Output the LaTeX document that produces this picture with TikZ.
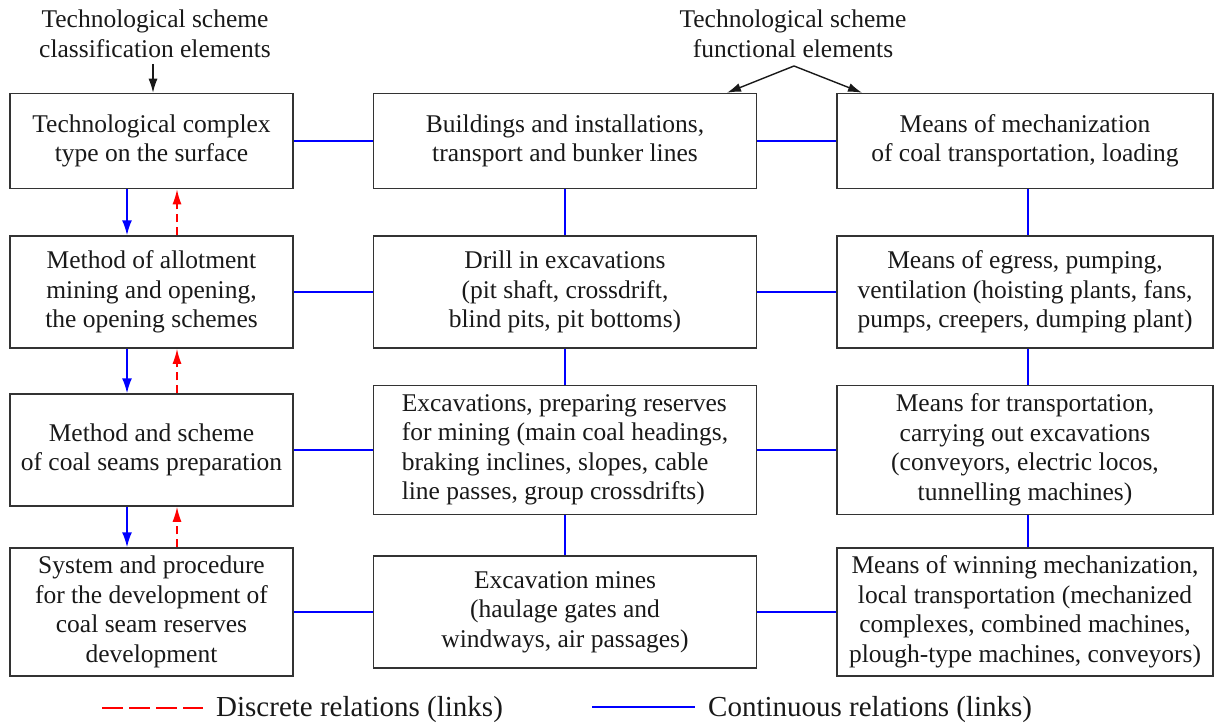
\documentclass[tikz,border=0pt]{standalone}
\usepackage{fontspec}
\setmainfont{Liberation Serif}
\usetikzlibrary{arrows.meta}
\begin{document}
\begin{tikzpicture}[x=1pt,y=-1pt,
        every node/.style={font=\fontsize{25.5}{29.5}\selectfont, text=black!90},
        box/.style={draw=black!80, line width=1.5pt, fill=white, inner sep=0pt, align=center},
        lbox/.style={box, minimum width=283pt},
        mbox/.style={box, minimum width=383pt},
        rbox/.style={box, minimum width=376pt},
        link/.style={blue, line width=1.6pt},
        flow/.style={blue, line width=1.6pt, -{Latex[length=15pt,width=10pt]}},
        feedback/.style={red, line width=1.6pt, dash pattern=on 8pt off 5pt, -{Latex[length=15pt,width=9pt]}},
        pointer/.style={black!90, line width=1.4pt, -{Latex[length=14pt,width=9pt]}},
        legend/.style={font=\fontsize{29}{34}\selectfont, anchor=base west, inner sep=0pt}]
        \useasboundingbox (0,0) rectangle (1214,722);

        % Classification elements (left column)
        \node[lbox, minimum height=95pt] (surface) at (151.5,141) {Technological complex\\type on the surface};
        \node[lbox, minimum height=112pt] (opening) at (151.5,292) {Method of allotment\\mining and opening,\\the opening schemes};
        \node[lbox, minimum height=112pt] (preparation) at (151.5,450) {Method and scheme\\of coal seams preparation};
        \node[lbox, minimum height=128pt] (development) at (151.5,612) {System and procedure\\for the development of\\coal seam reserves\\development};

        % Functional elements (middle column)
        \node[mbox, minimum height=95pt] (buildings) at (565,141) {Buildings and installations,\\transport and bunker lines};
        \node[mbox, minimum height=112pt] (drill) at (565,292) {Drill in excavations\\(pit shaft, crossdrift,\\blind pits, pit bottoms)};
        \node[mbox, minimum height=129pt, align=left] (reserves) at (565,450) {Excavations, preparing reserves\\for mining (main coal headings,\\braking inclines, slopes, cable\\line passes, group crossdrifts)};
        \node[mbox, minimum height=112pt] (mines) at (565,612) {Excavation mines\\(haulage gates and\\windways, air passages)};

        % Functional elements (right column)
        \node[rbox, minimum height=95pt] (loading) at (1025,141) {Means of mechanization\\of coal transportation, loading};
        \node[rbox, minimum height=112pt] (egress) at (1025,292) {Means of egress, pumping,\\ventilation (hoisting plants, fans,\\pumps, creepers, dumping plant)};
        \node[rbox, minimum height=129pt] (carrying) at (1025,450) {Means for transportation,\\carrying out excavations\\(conveyors, electric locos,\\tunnelling machines)};
        \node[rbox, minimum height=128pt] (winning) at (1025,612) {Means of winning mechanization,\\local transportation (mechanized\\complexes, combined machines,\\plough-type machines, conveyors)};

        % Headings
        \node[align=center, inner sep=0pt] (classification) at (155,34) {Technological scheme\\classification elements};
        \node[align=center, inner sep=0pt] (functional) at (793,34) {Technological scheme\\functional elements};
        \coordinate (classtail) at (153,64);
        \coordinate (apex) at (794,66);
        \draw[pointer] (classtail) -- (classtail |- surface.north);
        \draw[pointer] (apex) -- ([xshift=162pt]buildings.north);
        \draw[pointer] (apex) -- ([xshift=-163pt]loading.north);

        % Continuous relations between rows
        \draw[link] (surface) -- (buildings) -- (loading);
        \draw[link] (opening) -- (drill) -- (egress);
        \draw[link] (preparation) -- (reserves) -- (carrying);
        \draw[link] (development) -- (mines) -- (winning);
        \draw[link] (buildings) -- (drill);
        \draw[link] (drill) -- (reserves);
        \draw[link] (reserves) -- (mines);
        \draw[link] ([xshift=3pt]loading.south) -- ([xshift=3pt]egress.north);
        \draw[link] ([xshift=3pt]egress.south) -- ([xshift=3pt]carrying.north);
        \draw[link] ([xshift=3pt]carrying.south) -- ([xshift=3pt]winning.north);

        % Left column: down and back
        \draw[flow] ([xshift=-24.5pt]surface.south) -- ([xshift=-24.5pt]opening.north);
        \draw[flow] ([xshift=-24.5pt]opening.south) -- ([xshift=-24.5pt]preparation.north);
        \draw[flow] ([xshift=-24.5pt]preparation.south) -- ([xshift=-24.5pt]development.north);
        \draw[feedback] ([xshift=25.5pt]opening.north) -- ([xshift=25.5pt]surface.south);
        \draw[feedback] ([xshift=25.5pt]preparation.north) -- ([xshift=25.5pt]opening.south);
        \draw[feedback] ([xshift=25.5pt]development.north) -- ([xshift=25.5pt]preparation.south);

        % Legend
        \coordinate (dstart) at (102,708);
        \coordinate (dend) at (203,708);
        \coordinate (cstart) at (592,707);
        \coordinate (cend) at (695,707);
        \draw[red, line width=1.6pt, dash pattern=on 21pt off 6pt] (dstart) -- (dend);
        \node[legend] (discrete) at (216,716) {Discrete relations (links)};
        \draw[link] (cstart) -- (cend);
        \node[legend] (continuous) at (708,716) {Continuous relations (links)};
    \end{tikzpicture}
\end{document}
